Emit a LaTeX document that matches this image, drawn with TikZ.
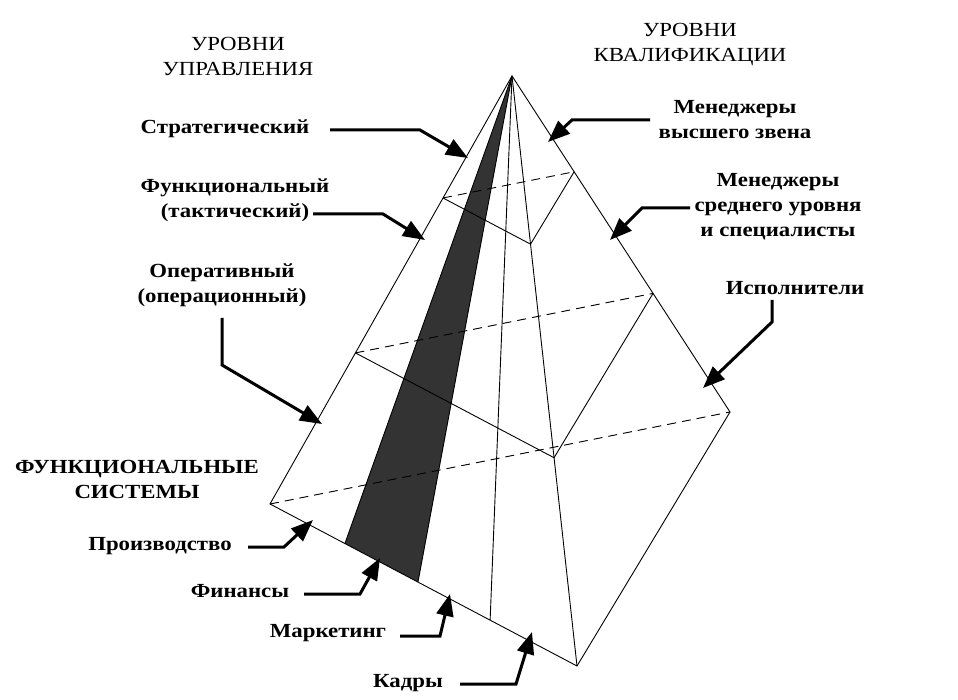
\documentclass[tikz,border=0pt]{standalone}
\usepackage{fontspec}
\setmainfont{Liberation Serif}
\newfontfamily\widefont[FakeStretch=1.14]{Liberation Serif}
\usetikzlibrary{arrows.meta,calc}
\begin{document}
\begin{tikzpicture}[x=1pt,y=-1pt,
  lbl/.style={font=\widefont\bfseries\fontsize{20}{25}\selectfont,align=center,inner sep=1pt},
  ttl/.style={font=\widefont\fontsize{20}{25}\selectfont,align=center,inner sep=1pt},
  ttlb/.style={font=\widefont\bfseries\fontsize{20}{25}\selectfont,align=center,inner sep=1pt},
  edge/.style={line width=0.9pt},
  hid/.style={line width=0.9pt,dash pattern=on 9pt off 6pt},
  pt/.style={line width=3pt,-{Triangle[length=22pt,width=17pt]}}]
\useasboundingbox (0,0) rectangle (958,700);
\coordinate (A) at (512,76);
\coordinate (L) at (270,504);
\coordinate (F) at (577,666);
\coordinate (R) at (730,412);
\coordinate (P1L) at ($(A)!0.285!(L)$);
\coordinate (P1F) at ($(A)!0.285!(F)$);
\coordinate (P1R) at ($(A)!0.285!(R)$);
\coordinate (P2L) at ($(A)!0.647!(L)$);
\coordinate (P2F) at ($(A)!0.647!(F)$);
\coordinate (P2R) at ($(A)!0.647!(R)$);
\coordinate (B1) at ($(L)!0.244!(F)$);
\coordinate (B2) at ($(L)!0.482!(F)$);
\coordinate (B3) at ($(L)!0.717!(F)$);
\fill[black!80] (A) -- (B1) -- (B2) -- cycle;
\draw[edge] (A) -- (L) -- (F) -- (R) -- cycle;
\draw[edge] (A) -- (F);
\draw[edge] (A) -- (B3);
\draw[edge] (A) -- (B1) (A) -- (B2);
\draw[edge] (P1L) -- (P1F) -- (P1R);
\draw[edge] (P2L) -- (P2F) -- (P2R);
\draw[hid] (P1L) -- (P1R);
\draw[hid] (P2L) -- (P2R);
\draw[hid] (L) -- (R);
% titles
\node[ttl] (t1) at (238,56) {УРОВНИ\\УПРАВЛЕНИЯ};
\node[ttl] (t2) at (690,45) {УРОВНИ\\КВАЛИФИКАЦИИ};
\node[ttlb] (t3) at (137,479) {ФУНКЦИОНАЛЬНЫЕ\\СИСТЕМЫ};
% labels
\node[lbl] (s1) at (225,129) {Стратегический};
\node[lbl] (s2) at (235,200) {Функциональный\\(тактический)};
\node[lbl] (s3) at (222,285) {Оперативный\\(операционный)};
\node[lbl] (q1) at (735,120) {Менеджеры\\высшего звена};
\node[lbl] (q2) at (778,207) {Менеджеры\\среднего уровня\\и специалисты};
\node[lbl] (q3) at (795,288) {Исполнители};
\node[lbl] (f1) at (160,546) {Производство};
\node[lbl] (f2) at (240,591) {Финансы};
\node[lbl] (f3) at (328,633) {Маркетинг};
\node[lbl] (f4) at (408,683) {Кадры};
% arrows
\coordinate (a1) at (468,158);
\coordinate (a2) at (425,240);
\coordinate (a3) at (322,424);
\coordinate (a4) at (548,142);
\coordinate (a5) at (610,240);
\coordinate (a6) at (703,388);
\coordinate (a7) at (313,520);
\coordinate (a8) at (380,558);
\coordinate (a9) at (450,594);
\coordinate (a10) at (532,632);
\draw[pt] (330,130) -- (420,130) -- (a1);
\draw[pt] (313,214) -- (383,214) -- (a2);
\draw[pt] (222,318) -- (222,365) -- (a3);
\draw[pt] (650,120) -- (572,120) -- (a4);
\draw[pt] (690,208) -- (642,208) -- (a5);
\draw[pt] (772,300) -- (772,322) -- (a6);
\draw[pt] (248,547) -- (284,547) -- (a7);
\draw[pt] (304,594) -- (360,594) -- (a8);
\draw[pt] (400,636) -- (440,636) -- (a9);
\draw[pt] (460,684) -- (516,684) -- (a10);
\end{tikzpicture}
\end{document}
